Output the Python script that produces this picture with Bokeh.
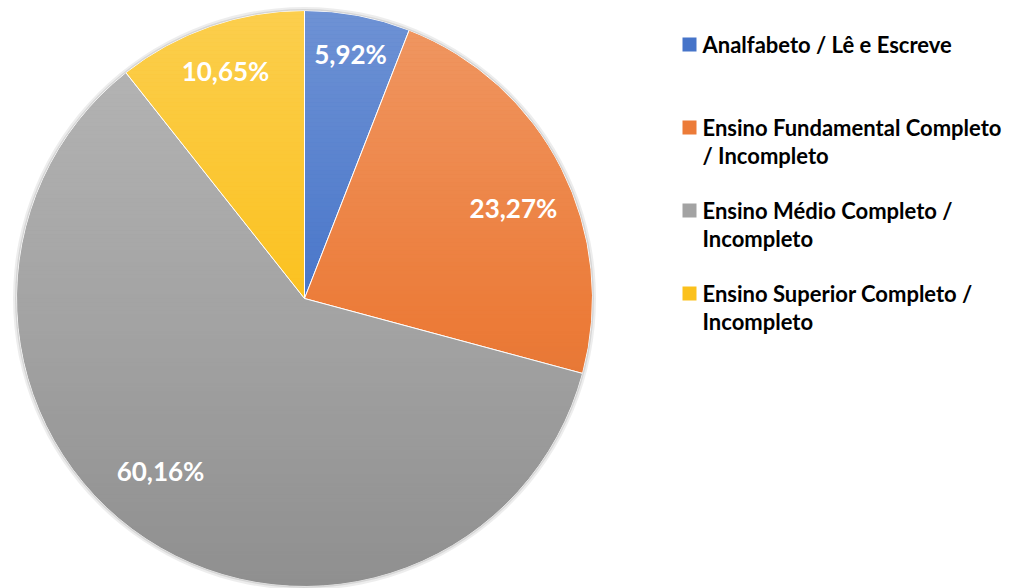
import math
from bokeh.plotting import figure
from bokeh.models import Range1d, ColumnDataSource
from bokeh.core.properties import value
from bokeh.embed import file_html
from bokeh.resources import INLINE

categories = ["Analfabeto / Lê e Escreve",
              "Ensino Fundamental Completo\n/ Incompleto",
              "Ensino Médio Completo /\nIncompleto",
              "Ensino Superior Completo /\nIncompleto"]
values = [5.92, 23.27, 60.16, 10.65]
labels = ["5,92%", "23,27%", "60,16%", "10,65%"]
colors = ["#4674C9", "#EC7B38", "#A3A3A3", "#FBC11C"]

W, H = 1011, 588
p = figure(width=W, height=H, output_backend="svg", toolbar_location=None,
           x_range=Range1d(0, W), y_range=Range1d(0, H), min_border=0)
p.axis.visible = False
p.grid.visible = False
p.outline_line_color = None

cx, cy, R = 304, 290, 288
total = sum(values)
starts, ends, mids = [], [], []
acc = 0.0
for v in values:
    a0 = acc / total
    acc += v
    a1 = acc / total
    starts.append(math.pi / 2 - a0 * 2 * math.pi)
    ends.append(math.pi / 2 - a1 * 2 * math.pi)
    mids.append((a0 + a1) / 2)

src = ColumnDataSource(dict(start=starts, end=ends, color=colors))
p.wedge(x=cx, y=cy, radius=R, start_angle="start", end_angle="end",
        direction="clock", fill_color="color", line_color="white", line_width=1,
        source=src)

# vertical shading (lighter top, darker bottom), masked to the disc
n = 144
band = 2 * R / n
tops, bottoms, fcol, falpha = [], [], [], []
for i in range(n):
    t = (i + 0.5) / n
    y1 = cy + R - i * band
    tops.append(y1)
    bottoms.append(y1 - band)
    if t < 0.55:
        fcol.append("white")
        falpha.append(0.22 * (0.55 - t) / 0.55)
    else:
        fcol.append("black")
        falpha.append(0.12 * (t - 0.55) / 0.45)
p.quad(left=cx - R - 2, right=cx + R + 2, top=tops, bottom=bottoms,
       fill_color=fcol, fill_alpha=falpha, line_color=None)
p.annulus(x=cx, y=cy, inner_radius=R, outer_radius=R + 150,
          fill_color="white", line_color=None)
# soft edge shadow
p.annulus(x=cx, y=cy, inner_radius=R, outer_radius=R + 1.5,
          fill_color="black", fill_alpha=0.16, line_color=None)
p.annulus(x=cx, y=cy, inner_radius=R + 1.5, outer_radius=R + 3.5,
          fill_color="black", fill_alpha=0.07, line_color=None)

# data labels
rfrac = [0.865, 0.79, 0.78, 0.835]
adj = [0.0, 3.5, 6.5, 0.0]
lx, ly = [], []
for m, rf, d in zip(mids, rfrac, adj):
    ang = math.radians(m * 360 + d)
    lx.append(cx + R * rf * math.sin(ang))
    ly.append(cy + R * rf * math.cos(ang))
p.text(x=lx, y=ly, text=labels, text_color="white", text_font=value("Lato"),
       text_font_style="bold", text_font_size="26px",
       text_align="center", text_baseline="middle")

# legend
leg_y_top = H - 44
step = 83
ly2 = [leg_y_top - i * step for i in range(len(categories))]
p.scatter(x=[689] * 4, y=ly2, marker="square", size=14, fill_color=colors,
          line_color=None)
p.text(x=[702] * 4, y=[y + 14 for y in ly2], text=categories, text_color="black",
       text_font=value("Lato"), text_font_style="bold", text_font_size="22px",
       text_align="left", text_baseline="top", text_line_height=1.07)

open("out.html", "w").write(file_html(p, INLINE))
